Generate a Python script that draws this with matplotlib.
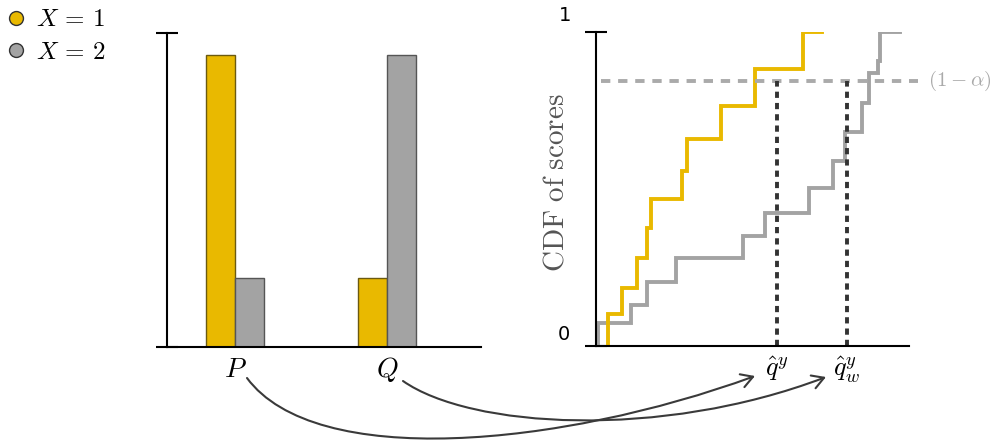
import numpy as np
import matplotlib
matplotlib.use("Agg")
import matplotlib.pyplot as plt
from matplotlib.lines import Line2D
from matplotlib.patches import FancyArrowPatch
from matplotlib.path import Path

plt.rcParams['mathtext.fontset'] = 'cm'

# data
groups = ['$P$', '$Q$']
probs_x1 = [0.93, 0.22]
probs_x2 = [0.22, 0.93]

# empirical CDFs (jump locations, levels after each jump)
x1_jumps = [0.038, 0.083, 0.131, 0.163, 0.176, 0.275, 0.291, 0.399, 0.508, 0.661]
x1_levels = [0.102, 0.185, 0.280, 0.376, 0.468, 0.557, 0.659, 0.764, 0.882, 1.0]
x1_end = 0.722
x2_jumps = [0.006, 0.112, 0.163, 0.256, 0.470, 0.540, 0.681, 0.757, 0.796, 0.850, 0.872, 0.901, 0.907]
x2_levels = [0.073, 0.131, 0.204, 0.280, 0.350, 0.424, 0.503, 0.589, 0.682, 0.774, 0.869, 0.908, 1.0]
x2_end = 0.971
level = 0.845
q_vals = [0.577, 0.803]
q_labels = [r'$\hat{q}^{y}$', r'$\hat{q}^{y}_{w}$']

yellow = '#e9b900'
grey = '#a3a3a3'

fig = plt.figure(figsize=(9.95, 4.44), dpi=100)

# left panel: bars
ax1 = fig.add_axes([167/995, 1-347/444, 314/995, 314/444])
pos = np.arange(len(groups))
w = 0.19
ax1.bar(pos - w/2, probs_x1, w, color=yellow, edgecolor='#6b5a10', lw=1)
ax1.bar(pos + w/2, probs_x2, w, color=grey, edgecolor='#555555', lw=1)
ax1.set_xlim(-0.447, 1.618)
ax1.set_ylim(0, 1)
ax1.set_xticks(pos, groups, fontsize=20)
ax1.set_yticks([0, 1], ['', ''])

# right panel: CDFs
ax2 = fig.add_axes([596/995, 1-346/444, 313/995, 314/444])
xs = [x2_jumps[0]] + x2_jumps + [x2_end]
ys = [0] + x2_levels + [x2_levels[-1]]
ax2.step(xs, ys, where='post', color=grey, lw=2.8, solid_joinstyle='miter')
xs = [x1_jumps[0]] + x1_jumps + [x1_end]
ys = [0] + x1_levels + [x1_levels[-1]]
ax2.step(xs, ys, where='post', color=yellow, lw=2.8, solid_joinstyle='miter')
ax2.axhline(level, xmin=0.015, xmax=1.03, color='#aaaaaa', lw=2.8, ls=(0, (2.4, 2.0)), clip_on=False)
for q in q_vals:
    ax2.plot([q, q], [0, level], color='#333333', lw=2.8, ls=(0, (1.6, 1.3)))
ax2.set_xlim(0, 1)
ax2.set_ylim(0, 1)
ax2.set_yticks([0, 1], ['', ''])
ax2.set_xticks(q_vals, q_labels, fontsize=19)
ax2.text(1.06, level, r'$(1-\alpha)$', color='#aaaaaa', fontsize=15,
         va='center', ha='left', transform=ax2.get_yaxis_transform())
ax2.text(-0.099, 1.054, '1', fontsize=14, ha='center', va='center', transform=ax2.transAxes)
ax2.text(-0.102, 0.038, '0', fontsize=14, ha='center', va='center', transform=ax2.transAxes)
ax2.set_ylabel(r'$\mathrm{CDF\ of\ scores}$', fontsize=21, color='#555555')
ax2.yaxis.set_label_coords(-0.085, 0.52)

for ax in (ax1, ax2):
    for s in ('top', 'right'):
        ax.spines[s].set_visible(False)
    for s in ('left', 'bottom'):
        ax.spines[s].set_linewidth(1.5)
    ax.tick_params(axis='y', direction='inout', length=16, width=1.5)
    ax.tick_params(axis='x', length=0, pad=6)

# legend
handles = [Line2D([], [], ls='', marker='o', ms=10, mfc=yellow, mec='#333333', mew=1),
           Line2D([], [], ls='', marker='o', ms=10, mfc=grey, mec='#333333', mew=1)]
fig.legend(handles, [r'$X\,=\,1$', r'$X\,=\,2$'], loc='upper left', bbox_to_anchor=(0, 1),
           frameon=False, fontsize=18, handlelength=0.7, handletextpad=0.45,
           labelspacing=0.35, borderaxespad=0.1, borderpad=0.2)

# curved arrows linking P/Q to the quantiles
def px(x, y):
    return (x/995, 1 - y/444)

curves = [
    [(247, 378), (315, 470), (560, 447), (755, 376)],
    [(403, 381), (470, 428), (660, 440), (826, 377)],
]
for c in curves:
    path = Path([px(*p) for p in c], [Path.MOVETO, Path.CURVE4, Path.CURVE4, Path.CURVE4])
    arr = FancyArrowPatch(path=path, arrowstyle='->,head_length=0.6,head_width=0.35',
                          mutation_scale=14, lw=1.5, color='#3a3a3a',
                          transform=fig.transFigure)
    fig.add_artist(arr)

fig.savefig('out.png', dpi=100)
